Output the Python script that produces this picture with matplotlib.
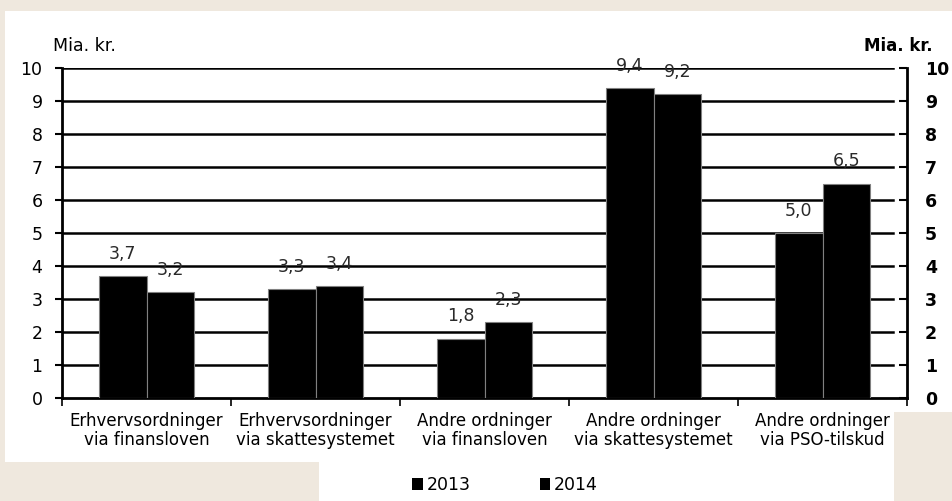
import matplotlib.pyplot as plt
import numpy as np
from matplotlib.patches import Patch, Polygon

categories = [
    "Erhvervsordninger\nvia finansloven",
    "Erhvervsordninger\nvia skattesystemet",
    "Andre ordninger\nvia finansloven",
    "Andre ordninger\nvia skattesystemet",
    "Andre ordninger\nvia PSO-tilskud",
]
years = ["2013", "2014"]
values_2013 = [3.7, 3.3, 1.8, 9.4, 5.0]
values_2014 = [3.2, 3.4, 2.3, 9.2, 6.5]
y_ticks = list(range(0, 11))

BEIGE = "#efe8de"
W, H = 952, 501
FS = 12.5


def px(x, y):
    """Image pixel (origin top-left) -> figure fraction."""
    return x / W, 1 - y / H


def main() -> None:
    plt.rcParams["font.family"] = ["DejaVu Sans"]
    fig = plt.figure(figsize=(9.52, 5.01), dpi=100, facecolor=BEIGE)

    # white panel behind the chart
    outline = [(5, 11), (952, 11), (952, 412), (894, 412), (894, 501),
               (319, 501), (319, 462), (5, 462)]
    fig.patches.append(Polygon([px(*p) for p in outline], closed=True,
                               transform=fig.transFigure, facecolor="white",
                               edgecolor="none", zorder=-10))

    x0, y0 = px(62, 398)
    x1, y1 = px(907, 68)
    ax = fig.add_axes([x0, y0, x1 - x0, y1 - y0])
    ax.set_facecolor("none")

    x = np.arange(len(categories))
    width = 0.284
    bars13 = ax.bar(x - width / 2, values_2013, width, color="black",
                    edgecolor="#808080", linewidth=0.8, zorder=3)
    bars14 = ax.bar(x + width / 2, values_2014, width, color="black",
                    edgecolor="#808080", linewidth=0.8, zorder=3)

    for bars in (bars13, bars14):
        for b in bars:
            h = b.get_height()
            ax.annotate(f"{h:.1f}".replace(".", ","),
                        (b.get_x() + b.get_width() / 2, h),
                        xytext=(0, 16), textcoords="offset points",
                        ha="center", va="center", fontsize=FS,
                        color="#2a2a2a", zorder=4)

    # horizontal gridlines stopping just short of right axis
    for t in y_ticks[1:]:
        ax.axhline(t, xmin=0, xmax=0.983, color="black", linewidth=1.8,
                   zorder=1)

    ax.set_xlim(-0.5, len(categories) - 0.5)
    ax.set_ylim(0, 10)
    ax.set_yticks(y_ticks)
    ax.tick_params(axis="y", direction="out", length=5, width=1.5, pad=9,
                   labelsize=FS)

    # category labels on minor ticks, separators on major ticks
    ax.set_xticks(np.arange(len(categories) + 1) - 0.5)
    ax.set_xticklabels([])
    ax.set_xticks(x, minor=True)
    ax.set_xticklabels(categories, minor=True, fontsize=12, linespacing=1.05)
    ax.tick_params(axis="x", which="major", direction="out", length=6,
                   width=1.2)
    ax.tick_params(axis="x", which="minor", length=0, pad=10)

    for side in ("left", "bottom", "right"):
        ax.spines[side].set_linewidth(2)
    ax.spines["top"].set_visible(False)

    ax2 = ax.twinx()
    ax2.set_ylim(0, 10)
    ax2.set_yticks(y_ticks)
    ax2.tick_params(axis="y", direction="in", length=6, width=1.5, pad=13,
                    labelsize=FS)
    for lab in ax2.get_yticklabels():
        lab.set_fontweight("bold")
    for side in ("left", "bottom", "right", "top"):
        ax2.spines[side].set_visible(False)

    fig.text(*px(53, 46), "Mia. kr.", fontsize=FS, ha="left", va="center")
    fig.text(*px(933, 46), "Mia. kr.", fontsize=12, fontweight="bold",
             ha="right", va="center")

    handles = [Patch(facecolor="black", edgecolor="none") for _ in years]
    fig.legend(handles, years, loc="center", bbox_to_anchor=px(505, 485),
               ncol=2, frameon=False, fontsize=FS, handlelength=0.6,
               handleheight=0.7, handletextpad=0.2, columnspacing=4.0)

    fig.savefig("out.png", dpi=100, facecolor=BEIGE)


if __name__ == "__main__":
    main()
